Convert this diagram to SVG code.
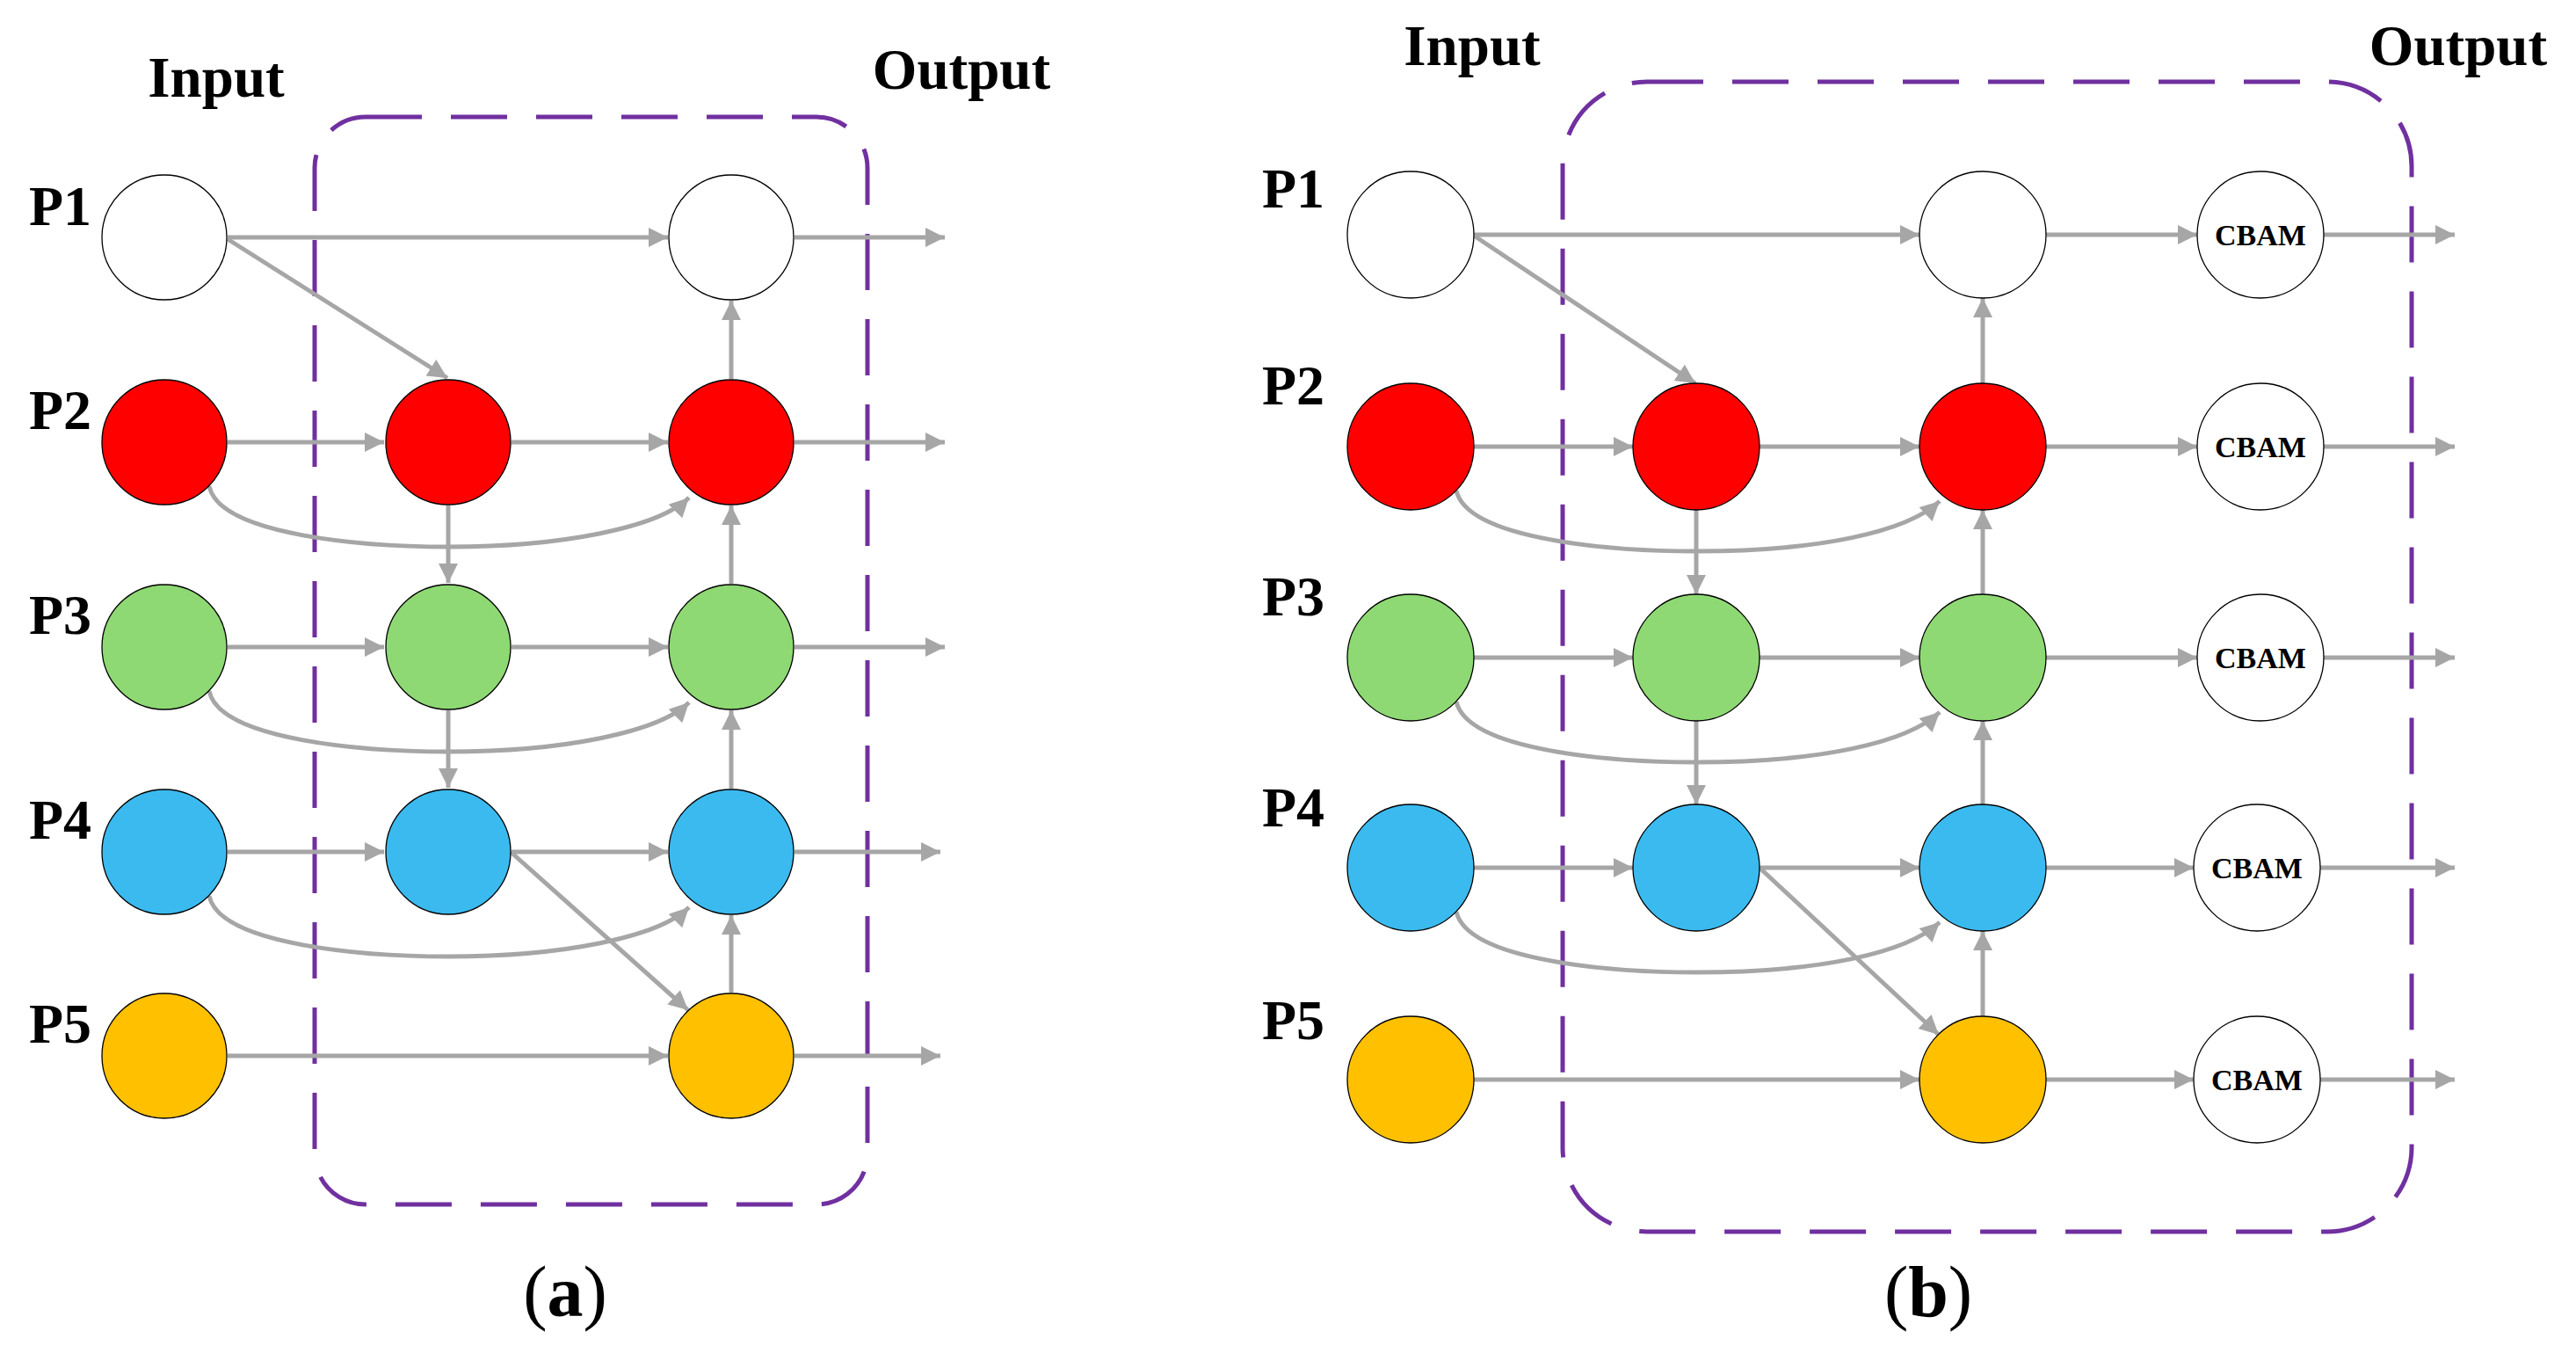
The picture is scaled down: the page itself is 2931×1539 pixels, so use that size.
<svg xmlns="http://www.w3.org/2000/svg" width="2931" height="1539" viewBox="0 0 2931 1539">
<style>
.t{font-family:"Liberation Serif","Times New Roman",serif;font-weight:bold;fill:#000}
.lbl{font-size:64px}
.cb{font-size:34px}
.n{stroke:#000;stroke-width:1.3}
.w{fill:#fff}.r{fill:#FF0000}.g{fill:#8ED973}.b{fill:#3BBAF0}.o{fill:#FFC000}
.c{stroke:#A6A6A6;stroke-width:5;fill:none;marker-end:url(#ah)}
.box{fill:none;stroke:#7030A0;stroke-width:5;stroke-dasharray:64 33}
</style>
<defs>
<marker id="ah" markerUnits="userSpaceOnUse" markerWidth="24" markerHeight="24" refX="22" refY="11" orient="auto"><path d="M0,0 L22,11 L0,22 z" fill="#A6A6A6"/></marker>
</defs>
<rect width="2931" height="1539" fill="#fff"/>
<rect class="box" x="358" y="133" width="629" height="1237" rx="58"/>
<rect class="box" x="1778" y="93" width="966" height="1308" rx="96"/>
<g id="labels">
<text class="t" x="246" y="110" font-size="65" text-anchor="middle">Input</text>
<text class="t" x="1094" y="101" font-size="65" text-anchor="middle">Output</text>
<text class="t" x="1675" y="74" font-size="65" text-anchor="middle">Input</text>
<text class="t" x="2797" y="74" font-size="65" text-anchor="middle">Output</text>
<text class="t lbl" x="33" y="256">P1</text>
<text class="t lbl" x="33" y="488">P2</text>
<text class="t lbl" x="33" y="721">P3</text>
<text class="t lbl" x="33" y="954">P4</text>
<text class="t lbl" x="33" y="1186">P5</text>
<text class="t lbl" x="1436" y="236">P1</text>
<text class="t lbl" x="1436" y="460">P2</text>
<text class="t lbl" x="1436" y="700">P3</text>
<text class="t lbl" x="1436" y="940">P4</text>
<text class="t lbl" x="1436" y="1182">P5</text>
<text class="t" x="643" y="1497" font-size="82" text-anchor="middle"><tspan font-weight="normal">(</tspan>a<tspan font-weight="normal">)</tspan></text>
<text class="t" x="2194" y="1497" font-size="82" text-anchor="middle"><tspan font-weight="normal">(</tspan>b<tspan font-weight="normal">)</tspan></text>
</g>
<g id="connectors">
<!-- (a) -->
<path class="c" d="M259,270 H760"/>
<path class="c" d="M259,272 L509,430"/>
<path class="c" d="M259,503 H437"/><path class="c" d="M582,503 H760"/>
<path class="c" d="M259,736 H437"/><path class="c" d="M582,736 H760"/>
<path class="c" d="M259,969 H437"/><path class="c" d="M582,969 H760"/>
<path class="c" d="M259,1201 H760"/>
<path class="c" d="M904,270 H1075"/><path class="c" d="M904,503 H1075"/><path class="c" d="M904,736 H1075"/><path class="c" d="M904,969 H1070"/><path class="c" d="M904,1201 H1070"/>
<path class="c" d="M510,575 V663"/><path class="c" d="M510,808 V896"/>
<path class="c" d="M832,431 V342"/><path class="c" d="M832,664 V575"/><path class="c" d="M832,897 V808"/><path class="c" d="M832,1129 V1041"/>
<path class="c" d="M581,969 L783,1149"/>
<path class="c" d="M238,553 C250,610 420,622 510,622 C640,622 750,600 784,566"/>
<path class="c" d="M238,786 C250,843 420,855 510,855 C640,855 750,833 784,799"/>
<path class="c" d="M238,1019 C250,1076 420,1088 510,1088 C640,1088 750,1066 784,1032"/>
<!-- (b) -->
<path class="c" d="M1677,267 H2184"/>
<path class="c" d="M1677,268 L1929,436"/>
<path class="c" d="M1677,508 H1858"/><path class="c" d="M2002,508 H2184"/>
<path class="c" d="M1677,748 H1858"/><path class="c" d="M2002,748 H2184"/>
<path class="c" d="M1677,987 H1858"/><path class="c" d="M2002,987 H2184"/>
<path class="c" d="M1677,1228 H2184"/>
<path class="c" d="M2328,267 H2500"/><path class="c" d="M2328,508 H2500"/><path class="c" d="M2328,748 H2500"/><path class="c" d="M2328,987 H2496"/><path class="c" d="M2328,1228 H2496"/>
<path class="c" d="M2644,267 H2793"/><path class="c" d="M2644,508 H2793"/><path class="c" d="M2644,748 H2793"/><path class="c" d="M2640,987 H2793"/><path class="c" d="M2640,1228 H2793"/>
<path class="c" d="M1930,580 V676"/><path class="c" d="M1930,820 V915"/>
<path class="c" d="M2256,436 V339"/><path class="c" d="M2256,676 V580"/><path class="c" d="M2256,915 V820"/><path class="c" d="M2256,1156 V1059"/>
<path class="c" d="M2002,987 L2206,1177"/>
<path class="c" d="M1657,558 C1670,615 1840,627 1930,627 C2070,627 2170,605 2207,570"/>
<path class="c" d="M1657,798 C1670,855 1840,867 1930,867 C2070,867 2170,845 2207,810"/>
<path class="c" d="M1657,1037 C1670,1094 1840,1106 1930,1106 C2070,1106 2170,1084 2207,1049"/>
</g>
<g id="a-in1"><circle class="n w" cx="187" cy="270" r="71"/></g>
<g id="a-in2"><circle class="n r" cx="187" cy="503" r="71"/></g>
<g id="a-in3"><circle class="n g" cx="187" cy="736" r="71"/></g>
<g id="a-in4"><circle class="n b" cx="187" cy="969" r="71"/></g>
<g id="a-in5"><circle class="n o" cx="187" cy="1201" r="71"/></g>
<g id="a-m2"><circle class="n r" cx="510" cy="503" r="71"/></g>
<g id="a-m3"><circle class="n g" cx="510" cy="736" r="71"/></g>
<g id="a-m4"><circle class="n b" cx="510" cy="969" r="71"/></g>
<g id="a-out1"><circle class="n w" cx="832" cy="270" r="71"/></g>
<g id="a-out2"><circle class="n r" cx="832" cy="503" r="71"/></g>
<g id="a-out3"><circle class="n g" cx="832" cy="736" r="71"/></g>
<g id="a-out4"><circle class="n b" cx="832" cy="969" r="71"/></g>
<g id="a-out5"><circle class="n o" cx="832" cy="1201" r="71"/></g>
<g id="b-in1"><circle class="n w" cx="1605" cy="267" r="72"/></g>
<g id="b-in2"><circle class="n r" cx="1605" cy="508" r="72"/></g>
<g id="b-in3"><circle class="n g" cx="1605" cy="748" r="72"/></g>
<g id="b-in4"><circle class="n b" cx="1605" cy="987" r="72"/></g>
<g id="b-in5"><circle class="n o" cx="1605" cy="1228" r="72"/></g>
<g id="b-m2"><circle class="n r" cx="1930" cy="508" r="72"/></g>
<g id="b-m3"><circle class="n g" cx="1930" cy="748" r="72"/></g>
<g id="b-m4"><circle class="n b" cx="1930" cy="987" r="72"/></g>
<g id="b-out1"><circle class="n w" cx="2256" cy="267" r="72"/></g>
<g id="b-out2"><circle class="n r" cx="2256" cy="508" r="72"/></g>
<g id="b-out3"><circle class="n g" cx="2256" cy="748" r="72"/></g>
<g id="b-out4"><circle class="n b" cx="2256" cy="987" r="72"/></g>
<g id="b-out5"><circle class="n o" cx="2256" cy="1228" r="72"/></g>
<g id="cbam1"><circle class="n w" cx="2572" cy="267" r="72"/><text class="t cb" x="2572" y="279" text-anchor="middle">CBAM</text></g>
<g id="cbam2"><circle class="n w" cx="2572" cy="508" r="72"/><text class="t cb" x="2572" y="520" text-anchor="middle">CBAM</text></g>
<g id="cbam3"><circle class="n w" cx="2572" cy="748" r="72"/><text class="t cb" x="2572" y="760" text-anchor="middle">CBAM</text></g>
<g id="cbam4"><circle class="n w" cx="2568" cy="987" r="72"/><text class="t cb" x="2568" y="999" text-anchor="middle">CBAM</text></g>
<g id="cbam5"><circle class="n w" cx="2568" cy="1228" r="72"/><text class="t cb" x="2568" y="1240" text-anchor="middle">CBAM</text></g>
</svg>
